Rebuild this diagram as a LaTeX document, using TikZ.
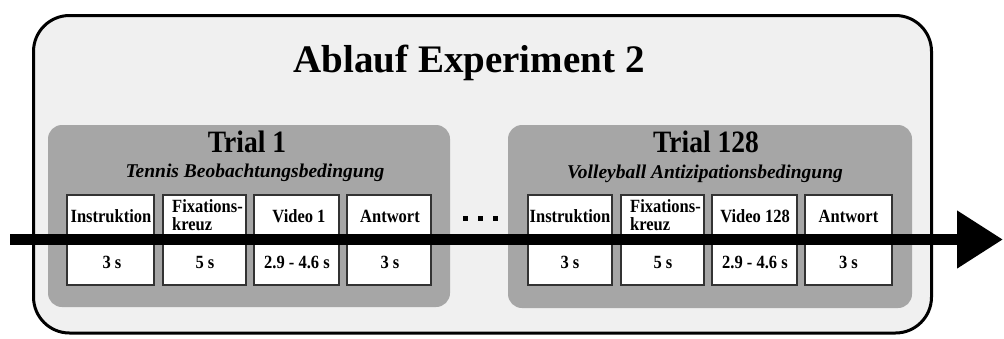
\documentclass[tikz,border=0pt]{standalone}
\usepackage{fontspec}
\usepackage{graphicx}
\setmainfont{Liberation Serif}
\usetikzlibrary{arrows.meta}
\definecolor{outerfill}{HTML}{F0F0F0}
\definecolor{trialfill}{HTML}{A6A6A6}
\definecolor{boxline}{HTML}{333333}
\newcommand{\vstretch}[1]{\scalebox{1}[1.13]{#1}}
\tikzset{
  outerbox/.style={draw=black, line width=3pt, fill=outerfill, rounded corners=36pt},
  trialbox/.style={draw=none, fill=trialfill, rounded corners=14pt},
  stepbox/.style={draw=boxline, line width=1.5pt, fill=white},
  boxtext/.style={font=\bfseries\fontsize{16.5}{18}\selectfont, inner sep=0pt, anchor=base},
  twoline/.style={font=\bfseries\fontsize{16.5}{18.5}\selectfont, inner sep=0pt, anchor=base west, align=left},
  trialtitle/.style={font=\bfseries\fontsize{27.5}{30}\selectfont, inner sep=0pt, anchor=base},
  trialsub/.style={font=\bfseries\itshape\fontsize{19.5}{21}\selectfont, inner sep=0pt, anchor=base},
  dotsq/.style={fill=black, draw=none},
}
\begin{document}
\begin{tikzpicture}[x=1pt,y=-1pt]
\useasboundingbox (0,0) rectangle (1004,338);
% outer box
\path[outerbox] (33.5,15.5) rectangle (931.5,333);
\node[font=\bfseries\fontsize{39}{41}\selectfont, inner sep=0pt, anchor=base] (title) at (469,72) {Ablauf Experiment 2};
% trial boxes
\path[trialbox] (48,125) rectangle (450,307);
\path[trialbox] (508,125) rectangle (912,308);
\node[trialtitle] (t1) at (247,152) {\vstretch{Trial 1}};
\node[trialsub] (t1s) at (255,177) {Tennis Beobachtungsbedingung};
\node[trialtitle] (t2) at (706,152) {\vstretch{Trial 128}};
\node[trialsub] (t2s) at (705,178) {Volleyball Antizipationsbedingung};
% step boxes trial 1
\draw[stepbox] (67,195) rectangle (154,285);
\draw[stepbox] (163,195) rectangle (246,285);
\draw[stepbox] (254,195) rectangle (339,285);
\draw[stepbox] (347,195) rectangle (431,285);
% step boxes trial 128
\draw[stepbox] (528,195) rectangle (612,285);
\draw[stepbox] (621,195) rectangle (704,285);
\draw[stepbox] (712,195) rectangle (797,285);
\draw[stepbox] (805,195) rectangle (892,285);
% labels trial 1
\node[boxtext] (a1) at (111,222) {\vstretch{Instruktion}};
\node[twoline] (a2) at (172,212.5) {\vstretch{Fixations-}};
\node[twoline] (a2b) at (172,230.5) {\vstretch{kreuz}};
\node[boxtext] (a3) at (299,222) {\vstretch{Video 1}};
\node[boxtext] (a4) at (390,222) {\vstretch{Antwort}};
\node[boxtext] (b1) at (112,268) {\vstretch{3 s}};
\node[boxtext] (b2) at (205,268) {\vstretch{5 s}};
\node[boxtext] (b3) at (297,268) {\vstretch{2.9 - 4.6 s}};
\node[boxtext] (b4) at (390,268) {\vstretch{3 s}};
% labels trial 128
\node[boxtext] (c1) at (570,222) {\vstretch{Instruktion}};
\node[twoline] (c2) at (630,212.5) {\vstretch{Fixations-}};
\node[twoline] (c2b) at (630,230.5) {\vstretch{kreuz}};
\node[boxtext] (c3) at (755,222) {\vstretch{Video 128}};
\node[boxtext] (c4) at (848.5,222) {\vstretch{Antwort}};
\node[boxtext] (d1) at (570,268) {\vstretch{3 s}};
\node[boxtext] (d2) at (663,268) {\vstretch{5 s}};
\node[boxtext] (d3) at (755,268) {\vstretch{2.9 - 4.6 s}};
\node[boxtext] (d4) at (848.5,268) {\vstretch{3 s}};
% dots
\path[dotsq] (462.7,215.7) rectangle (468.3,221.3);
\path[dotsq] (477.7,215.7) rectangle (483.3,221.3);
\path[dotsq] (492.7,215.7) rectangle (498.3,221.3);
% time arrow
\coordinate (tstart) at (10,239.5);
\coordinate (tend) at (1003,239.5);
\draw[line width=11pt, -{Triangle[length=46pt,width=55pt]}] (tstart) -- (tend);
\end{tikzpicture}
\end{document}
